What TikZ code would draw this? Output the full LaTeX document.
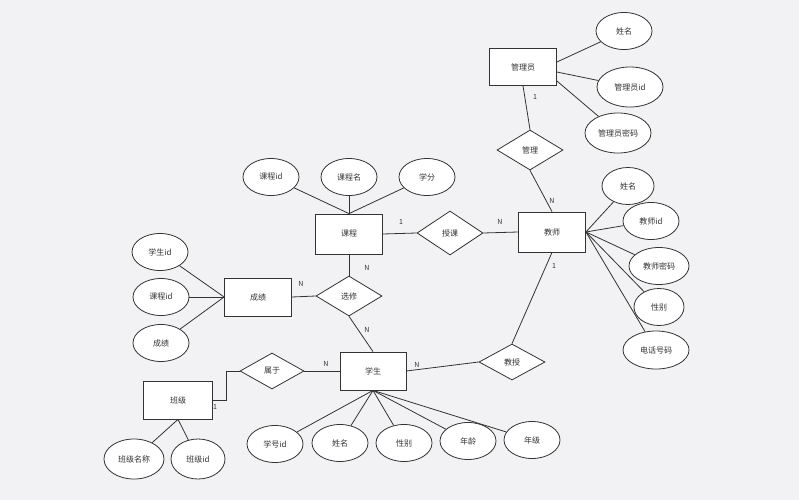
\documentclass[tikz,border=0pt]{standalone}
\usepackage{fontspec}
\setmainfont{Noto Sans CJK SC}
\usetikzlibrary{shapes.geometric}
\definecolor{bg}{HTML}{F2F2F4}
\definecolor{ln}{HTML}{333333}
\begin{document}
\begin{tikzpicture}[x=1pt,y=-1pt,line width=0.8pt,draw=ln,
  every node/.style={font=\fontsize{8}{9}\selectfont,text=ln},
  ent/.style={draw=ln,fill=white,minimum width=67pt,minimum height=38pt,inner sep=0},
  att/.style={draw=ln,fill=white,ellipse,minimum width=56pt,minimum height=37pt,inner sep=0},
  rel/.style={draw=ln,fill=white,diamond,aspect=1.7,minimum width=66pt,minimum height=40pt,inner sep=0},
  lab/.style={font=\fontsize{7}{8}\selectfont,inner sep=0}]
\fill[bg] (0,0) rectangle (799,500);
\useasboundingbox (0,0) rectangle (799,500);
\node[att] (a1) at (624,31) {姓名};
\node[att,minimum width=66pt,minimum height=40pt] (a2) at (630,87) {管理员id};
\node[att,minimum width=66pt,minimum height=40pt] (a3) at (618,133) {管理员密码};
\node[att,minimum width=52pt] (b1) at (628,186) {姓名};
\node[att] (b2) at (651,221) {教师id};
\node[att,minimum width=60pt] (b3) at (659,266) {教师密码};
\node[att,minimum width=50pt] (b4) at (659,307) {性别};
\node[att,minimum width=66pt,minimum height=38pt] (b5) at (656,350) {电话号码};
\node[att] (c1) at (271,177) {课程id};
\node[att] (c2) at (349,177) {课程名};
\node[att] (c3) at (427,177) {学分};
\node[att] (d1) at (160,252) {学生id};
\node[att] (d2) at (161,297) {课程id};
\node[att] (d3) at (161,343) {成绩};
\node[att,minimum width=60pt,minimum height=40pt] (e1) at (134,459) {班级名称};
\node[att,minimum width=54pt,minimum height=40pt] (e2) at (198,459) {班级id};
\node[att] (f1) at (275,444) {学号id};
\node[att] (f2) at (340,443) {姓名};
\node[att] (f3) at (404,443) {性别};
\node[att] (f4) at (468,441) {年龄};
\node[att] (f5) at (532,440) {年级};
\node[rel] (r1) at (530,150) {管理};
\node[rel,minimum height=44pt] (r2) at (450,233) {授课};
\node[rel] (r3) at (349,296) {选修};
\node[rel,minimum height=36pt] (r4) at (512,362) {教授};
\node[rel,minimum width=64pt,minimum height=36pt] (r5) at (272,371) {属于};
\node[ent,minimum height=37pt] (E1) at (523,67) {管理员};
\node[ent,minimum height=40pt] (E2) at (552,232) {教师};
\node[ent,minimum height=40pt] (E3) at (349,234) {课程};
\node[ent] (E4) at (258,297) {成绩};
\node[ent,minimum width=66pt] (E5) at (373,371) {学生};
\node[ent,minimum width=69pt] (E6) at (178,400) {班级};
\draw (E1.east) ++(0,-5) -- (a1);
\draw (E1.east) ++(0,5) -- (a2);
\draw (E1.east) ++(0,14) -- (a3);
\foreach \a in {b1,b2,b3,b4,b5} \draw (E2.east) -- (\a);
\foreach \a in {c1,c2,c3} \draw (E3.north) -- (\a);
\foreach \a in {d1,d2,d3} \draw (E4.west) -- (\a);
\foreach \a in {e1,e2} \draw (E6.south) -- (\a);
\foreach \a in {f1,f2,f3,f4,f5} \draw (E5.south) -- (\a);
\draw (E1.south) -- (r1.north);
\draw (r1.south) -- (E2.north);
\draw (E3.east) -- (r2.west);
\draw (r2.east) -- (E2.west);
\draw (E3.south) -- (r3.north);
\draw (r3.south) -- (E5.north);
\draw (E4.east) -- (r3.west);
\draw (E2.south) -- (r4.north);
\draw (E5.east) -- (r4.west);
\draw (r5.east) -- (E5.west);
\draw (r5.west) -- (226,371) -- (226,400) -- (E6.east);
\node[lab] (l1) at (535,97) {1};
\node[lab] (l2) at (552,201) {N};
\node[lab] (l3) at (401,222) {1};
\node[lab] (l4) at (500,222) {N};
\node[lab] (l5) at (367,268) {N};
\node[lab] (l6) at (367,330) {N};
\node[lab] (l7) at (301,284) {N};
\node[lab] (l8) at (554,266) {1};
\node[lab] (l9) at (417,365) {N};
\node[lab] (l10) at (326,364) {N};
\node[lab] (l11) at (215,407) {1};
\end{tikzpicture}
\end{document}
